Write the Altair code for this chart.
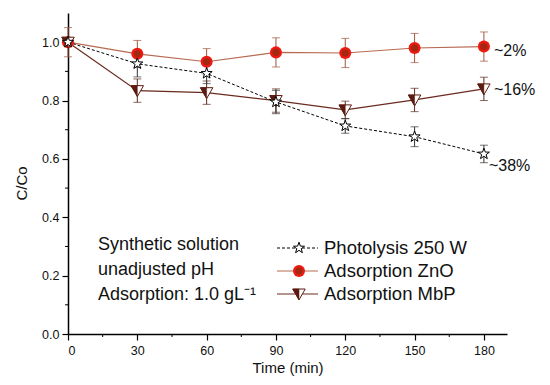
import altair as alt
import pandas as pd

times = [0, 30, 60, 90, 120, 150, 180]
photolysis = [1.0, 0.926, 0.893, 0.795, 0.713, 0.676, 0.617]
photolysis_err = [0.0, 0.045, 0.035, 0.04, 0.025, 0.034, 0.03]
zno = [1.0, 0.96, 0.933, 0.965, 0.963, 0.98, 0.985]
zno_err = [0.05, 0.046, 0.045, 0.05, 0.05, 0.05, 0.05]
mbp = [1.0, 0.834, 0.827, 0.8, 0.768, 0.802, 0.84]
mbp_err = [0.0, 0.04, 0.04, 0.04, 0.03, 0.04, 0.04]

series_names = ["Photolysis 250 W", "Adsorption ZnO", "Adsorption MbP"]
annotations = ["~38%", "~2%", "~16%"]
info_lines = ["Synthetic solution", "unadjusted pH", "Adsorption: 1.0 gL\u207b\u00b9"]
x_ticks = [0, 30, 60, 90, 120, 150, 180]
x_minor = [15, 45, 75, 105, 135, 165]
y_ticks = [0.0, 0.2, 0.4, 0.6, 0.8, 1.0]
y_minor = [0.1, 0.3, 0.5, 0.7, 0.9]

FONT = "Liberation Sans"
W, H = 439, 321


def frame(vals, errs):
    return pd.DataFrame({
        "t": times, "v": vals,
        "lo": [v - e for v, e in zip(vals, errs)],
        "hi": [v + e for v, e in zip(vals, errs)],
    })


d_ph = frame(photolysis, photolysis_err)
d_zn = frame(zno, zno_err)
d_mb = frame(mbp, mbp_err)

xs = alt.Scale(domain=[0, 190], nice=False, zero=False)
ys = alt.Scale(domain=[0, 1.1], nice=False, zero=False)

X = alt.X("t:Q", scale=xs, axis=alt.Axis(
    values=x_ticks, title="Time (min)", grid=False, tickSize=6,
    labelFontSize=12.5, titleFontSize=15, labelFont=FONT, titleFont=FONT,
    domainColor="black", tickColor="black", labelColor="#111",
    titleColor="#111", titleFontWeight="normal", labelPadding=4, titlePadding=4,
    domainWidth=1.5, tickWidth=1.2))
Y = alt.Y("v:Q", scale=ys, axis=alt.Axis(
    values=y_ticks, format=".1f", title="C/Co", grid=False, tickSize=6,
    labelFontSize=12.5, titleFontSize=15, labelFont=FONT, titleFont=FONT,
    domainColor="black", tickColor="black", labelColor="#111",
    titleColor="#111", titleFontWeight="normal", labelPadding=3,
    titleX=-47, titleY=170, titleBaseline="middle",
    domainWidth=1.5, tickWidth=1.2))

layers = []

# minor ticks
layers.append(alt.Chart(pd.DataFrame({"t": x_minor})).mark_rule(color="black", strokeWidth=1).encode(
    x=alt.X("t:Q", scale=xs), y=alt.value(H), y2=alt.value(H + 3)))
layers.append(alt.Chart(pd.DataFrame({"v": y_minor})).mark_rule(color="black", strokeWidth=1).encode(
    y=alt.Y("v:Q", scale=ys), x=alt.value(-3), x2=alt.value(0)))


def errbars(df, color):
    out = []
    out.append(alt.Chart(df).mark_rule(color=color, strokeWidth=1).encode(
        x=alt.X("t:Q", scale=xs), y=alt.Y("lo:Q", scale=ys), y2="hi:Q"))
    for f in ["lo", "hi"]:
        out.append(alt.Chart(df).mark_tick(color=color, orient="horizontal", size=8, thickness=1).encode(
            x=alt.X("t:Q", scale=xs), y=alt.Y(f + ":Q", scale=ys)))
    return out


ZN_LINE = "#b86a52"
MB_LINE = "#6a2a1e"
MB_FILL = "#5c1a10"

layers += errbars(d_zn, "#a0573c")
layers += errbars(d_mb, "#5c2a1e")
layers += errbars(d_ph, "#333333")

# lines
layers.append(alt.Chart(d_zn).mark_line(color=ZN_LINE, strokeWidth=1.2).encode(x=X, y=Y))
layers.append(alt.Chart(d_mb).mark_line(color=MB_LINE, strokeWidth=1.2).encode(x=alt.X("t:Q", scale=xs), y=alt.Y("v:Q", scale=ys)))
layers.append(alt.Chart(d_ph).mark_line(color="black", strokeWidth=1, strokeDash=[3, 2]).encode(x=alt.X("t:Q", scale=xs), y=alt.Y("v:Q", scale=ys)))

STAR = "M0,-1L0.235,-0.324L0.951,-0.309L0.38,0.124L0.588,0.809L0,0.4L-0.588,0.809L-0.38,0.124L-0.951,-0.309L-0.235,-0.324Z"
TRI = "M-1,-0.8L1,-0.8L0,0.95Z"
TRI_HALF = "M-1,-0.8L0,-0.8L0,0.95Z"


def zn_marks(chart_fn):
    return [
        chart_fn(alt.MarkDef(type="point", shape="circle", filled=True, color="#ee1a12", size=145, opacity=1)),
        chart_fn(alt.MarkDef(type="point", shape="circle", filled=True, color="#8a2c12", size=50, opacity=0.75)),
    ]


def mb_marks(chart_fn):
    return [
        chart_fn(alt.MarkDef(type="point", shape=TRI, filled=True, fill="white", stroke=MB_FILL, strokeWidth=1, size=155, opacity=1)),
        chart_fn(alt.MarkDef(type="point", shape=TRI_HALF, filled=True, fill=MB_FILL, stroke=MB_FILL, strokeWidth=0.5, size=155, opacity=1)),
    ]


def ph_marks(chart_fn):
    return [chart_fn(alt.MarkDef(type="point", shape=STAR, filled=True, fill="white", stroke="black", strokeWidth=1, size=135, opacity=1))]


def data_fn(df):
    return lambda m: alt.Chart(df).mark_point(**{k: v for k, v in m.to_dict().items() if k != "type"}).encode(
        x=alt.X("t:Q", scale=xs), y=alt.Y("v:Q", scale=ys))


layers += zn_marks(data_fn(d_zn))
layers += mb_marks(data_fn(d_mb))
layers += ph_marks(data_fn(d_ph))

# end annotations
ann = pd.DataFrame({"t": [180, 180, 180], "v": [photolysis[-1], zno[-1], mbp[-1]],
                    "label": annotations, "dx": [5, 10, 10], "dy": [12, 4, 1]})
for i in range(3):
    layers.append(alt.Chart(ann.iloc[[i]]).mark_text(
        align="left", baseline="middle", fontSize=16, font=FONT, color="#111",
        dx=int(ann.dx[i]), dy=int(ann.dy[i])).encode(
        x=alt.X("t:Q", scale=xs), y=alt.Y("v:Q", scale=ys), text="label:N"))

# info text block
info_y = [232, 257, 282]
for line, yy in zip(info_lines, info_y):
    layers.append(alt.Chart(pd.DataFrame({"label": [line]})).mark_text(
        align="left", baseline="middle", fontSize=18, font=FONT, color="#111").encode(
        x=alt.value(30), y=alt.value(yy), text="label:N"))

# manual legend
leg_y = [235, 258, 281]
leg_styles = [("black", [3, 2], ph_marks), (ZN_LINE, [1, 0], zn_marks), (MB_LINE, [1, 0], mb_marks)]
for name, yy, (lc, dash, mk) in zip(series_names, leg_y, leg_styles):
    ld = pd.DataFrame({"label": [name]})
    layers.append(alt.Chart(ld).mark_rule(color=lc, strokeWidth=1.2 if lc != "black" else 1, strokeDash=dash).encode(
        x=alt.value(209), x2=alt.value(250), y=alt.value(yy)))

    def leg_fn(m, ld=ld, yy=yy):
        return alt.Chart(ld).mark_point(**{k: v for k, v in m.to_dict().items() if k != "type"}).encode(
            x=alt.value(231), y=alt.value(yy))
    layers += mk(leg_fn)
    layers.append(alt.Chart(ld).mark_text(
        align="left", baseline="middle", fontSize=18.5, font=FONT, color="#111").encode(
        x=alt.value(256), y=alt.value(yy), text="label:N"))

chart = alt.layer(*layers).properties(
    width=W, height=H,
    autosize=alt.AutoSizeParams(type="none"),
    padding={"left": 60, "top": 5, "right": 35, "bottom": 48},
    background="white",
).configure_view(stroke=None)

chart.save("out.html", embed_options={"renderer": "svg", "actions": False})
